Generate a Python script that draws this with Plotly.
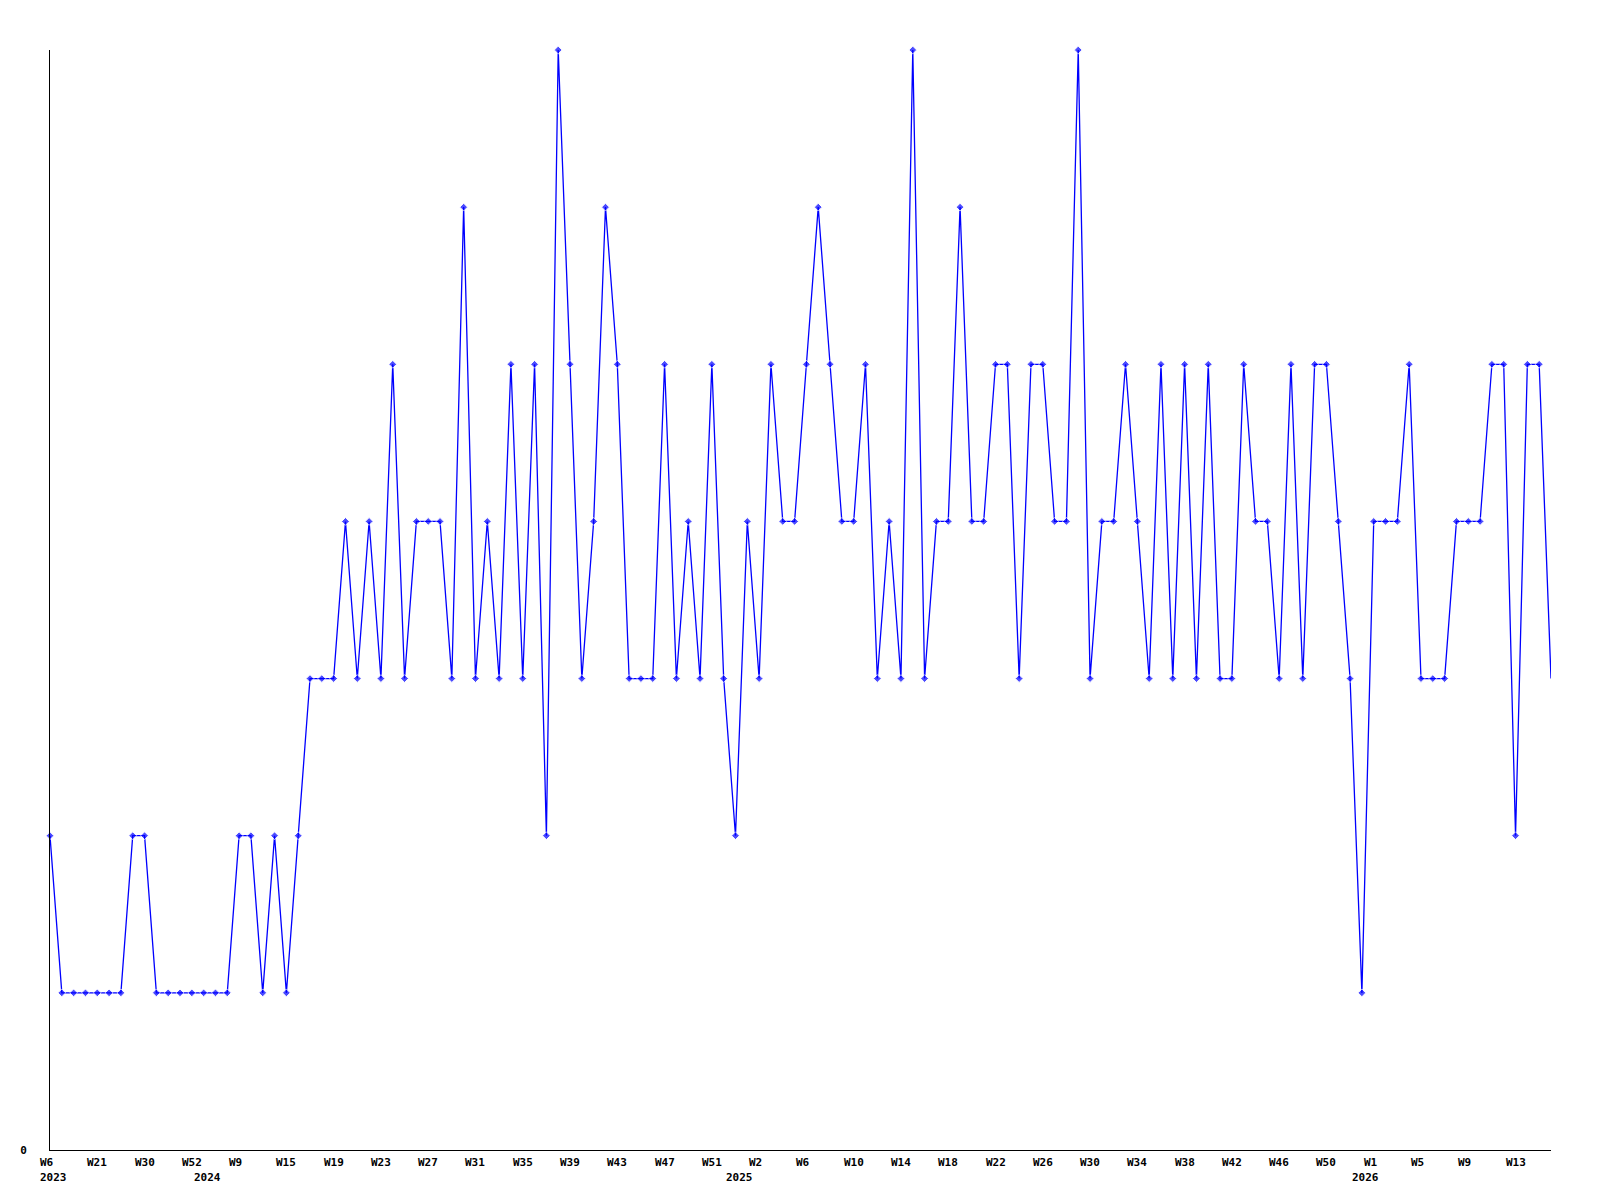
import plotly.graph_objects as go

# ---- data ----
weeks_2023 = ["W6", "W10", "W14", "W18", "W21", "W24", "W27", "W29", "W30", "W36", "W41", "W47", "W52"]
weeks_2024 = ["W1", "W4", "W7", "W9", "W11", "W12", "W14", "W15"] + [f"W{w}" for w in range(16, 53)]
weeks_2025 = [f"W{w}" for w in range(0, 53)]
weeks_2026 = [f"W{w}" for w in range(0, 17)]

categories = ([f"2023-{w}" for w in weeks_2023] + [f"2024-{w}" for w in weeks_2024]
              + [f"2025-{w}" for w in weeks_2025] + [f"2026-{w}" for w in weeks_2026])

values = [
    2, 1, 1, 1, 1, 1, 1, 2, 2, 1,
    1, 1, 1, 1, 1, 1, 2, 2, 1, 2,
    1, 2, 3, 3, 3, 4, 3, 4, 3, 5,
    3, 4, 4, 4, 3, 6, 3, 4, 3, 5,
    3, 5, 2, 7, 5, 3, 4, 6, 5, 3,
    3, 3, 5, 3, 4, 3, 5, 3, 2, 4,
    3, 5, 4, 4, 5, 6, 5, 4, 4, 5,
    3, 4, 3, 7, 3, 4, 4, 6, 4, 4,
    5, 5, 3, 5, 5, 4, 4, 7, 3, 4,
    4, 5, 4, 3, 5, 3, 5, 3, 5, 3,
    3, 5, 4, 4, 3, 5, 3, 5, 5, 4,
    3, 1, 4, 4, 4, 5, 3, 3, 3, 4,
    4, 4, 5, 5, 2, 5, 5, 3,
]

week_tick_labels = ["W6", "W21", "W30", "W52", "W9", "W15", "W19", "W23", "W27", "W31",
                    "W35", "W39", "W43", "W47", "W51", "W2", "W6", "W10", "W14", "W18",
                    "W22", "W26", "W30", "W34", "W38", "W42", "W46", "W50", "W1", "W5",
                    "W9", "W13"]
week_tick_positions = [categories[i * 4] for i in range(len(week_tick_labels))]

year_labels = ["2023", "2024", "2025", "2026"]
year_positions = ["2023-W6", "2024-W1", "2025-W0", "2026-W0"]

# ---- figure ----
FONT = dict(family="DejaVu Sans Mono", size=11, color="#000000", weight="bold")

marker_sizes = [6] * (len(values) - 1) + [0]

fig = go.Figure()
fig.add_trace(go.Scatter(
    x=categories, y=values, mode="lines+markers",
    line=dict(color="#0000ff", width=1.3),
    marker=dict(symbol="diamond", size=marker_sizes, color="#0000ff"),
    cliponaxis=False, showlegend=False, hoverinfo="x+y",
))

annotations = []
for lab, pos in zip(week_tick_labels, week_tick_positions):
    annotations.append(dict(x=pos, y=0, xref="x", yref="paper", text=lab, showarrow=False,
                            xanchor="left", yanchor="middle", xshift=-12, yshift=-12, font=FONT))
for lab, pos in zip(year_labels, year_positions):
    annotations.append(dict(x=pos, y=0, xref="x", yref="paper", text=lab, showarrow=False,
                            xanchor="left", yanchor="middle", xshift=-12, yshift=-27, font=FONT))

fig.update_layout(
    width=1600, height=1200,
    margin=dict(l=42, r=57, t=42, b=58),
    paper_bgcolor="#ffffff", plot_bgcolor="#ffffff",
    font=FONT,
    annotations=annotations,
    xaxis=dict(type="category", categoryorder="array", categoryarray=categories,
               range=[0, len(categories) - 1], showgrid=False, zeroline=False,
               showline=True, linecolor="#000000", linewidth=1,
               showticklabels=False, ticks=""),
    yaxis=dict(range=[0, 7], showgrid=False, zeroline=False,
               showline=True, linecolor="#000000", linewidth=1,
               tickvals=[0], ticktext=["0"], ticks="", ticklabelstandoff=20,
               tickfont=FONT),
)

fig.write_html("out.html")
